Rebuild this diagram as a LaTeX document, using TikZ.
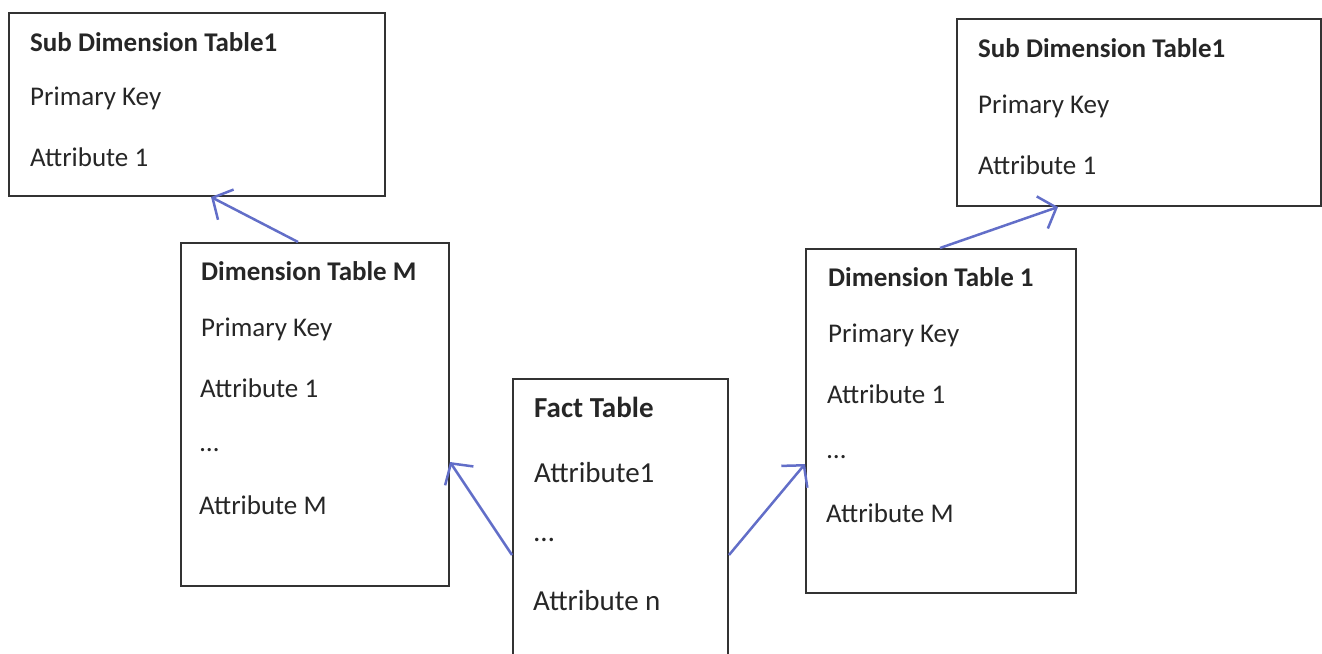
\documentclass[tikz,border=0pt]{standalone}
\usepackage{fontspec}
\setmainfont{Carlito}
\usetikzlibrary{arrows.meta}
\definecolor{linkblue}{RGB}{98,110,200}
\tikzset{
  tbl/.style={draw=black!80,line width=2pt,anchor=north west,inner sep=0pt},
  lbl/.style={anchor=west,inner sep=0pt,font=\fontsize{27}{32}\selectfont,text=black!85},
  flbl/.style={lbl,font=\fontsize{29}{34}\selectfont},
  arr/.style={draw=linkblue,line width=2.5pt,-{Straight Barb[length=15pt,width=34pt,line width=2.5pt]}}
}
\begin{document}
\begin{tikzpicture}[x=1pt,y=-1pt]
        \useasboundingbox (0,0) rectangle (1322,653);
        % the boxes
        \node[tbl,minimum width=376,minimum height=183] (subl) at (8,12) {};
        \node[tbl,minimum width=364,minimum height=187] (subr) at (956,18) {};
        \node[tbl,minimum width=268,minimum height=343] (dimm) at (180,242) {};
        \node[tbl,minimum width=270,minimum height=344] (dimone) at (805,248) {};
        \node[tbl,minimum width=215,minimum height=300] (fact) at (512,378) {};
        % texts
        \node[lbl,font=\fontsize{27}{32}\selectfont\bfseries] (subltitle) at (30,42) {Sub Dimension Table1};
        \node[lbl] (sublkey) at (30,98) {Primary Key};
        \node[lbl] (sublatt) at (30,157) {Attribute 1};
        \node[lbl,font=\fontsize{27}{32}\selectfont\bfseries] (subrtitle) at (978,48) {Sub Dimension Table1};
        \node[lbl] (subrkey) at (978,106) {Primary Key};
        \node[lbl] (subratt) at (978,165) {Attribute 1};
        \node[lbl,font=\fontsize{27}{32}\selectfont\bfseries] (dimmtitle) at (201,271) {Dimension Table M};
        \node[lbl] (dimmkey) at (201,329) {Primary Key};
        \node[lbl] (dimmatt) at (200,388) {Attribute 1};
        \node[lbl] (dimmdots) at (200,450) {\dots};
        \node[lbl] (dimmlast) at (199,505) {Attribute M};
        \node[lbl,font=\fontsize{27}{32}\selectfont\bfseries] (dimonetitle) at (828,277) {Dimension Table 1};
        \node[lbl] (dimonekey) at (828,335) {Primary Key};
        \node[lbl] (dimoneatt) at (827,394) {Attribute 1};
        \node[lbl] (dimonedots) at (827,457) {\dots};
        \node[lbl] (dimonelast) at (826,513) {Attribute M};
        \node[flbl,font=\fontsize{29}{34}\selectfont\bfseries] (facttitle) at (534,407) {Fact Table};
        \node[flbl] (factatt) at (534,473) {Attribute1};
        \node[flbl] (factdots) at (534,540) {\dots};
        \node[flbl] (factlast) at (533,601) {Attribute n};
        % links
        \draw[arr] ([xshift=118pt]dimm.north west) -- ([xshift=203pt]subl.south west);
        \draw[arr] ([xshift=135pt]dimone.north west) -- ([xshift=102pt]subr.south west);
        \draw[arr] ([yshift=-177pt]fact.north west) -- ([yshift=-220pt]dimm.north east);
        \draw[arr] ([yshift=-177pt]fact.north east) -- ([yshift=-216pt]dimone.north west);
\end{tikzpicture}
\end{document}
